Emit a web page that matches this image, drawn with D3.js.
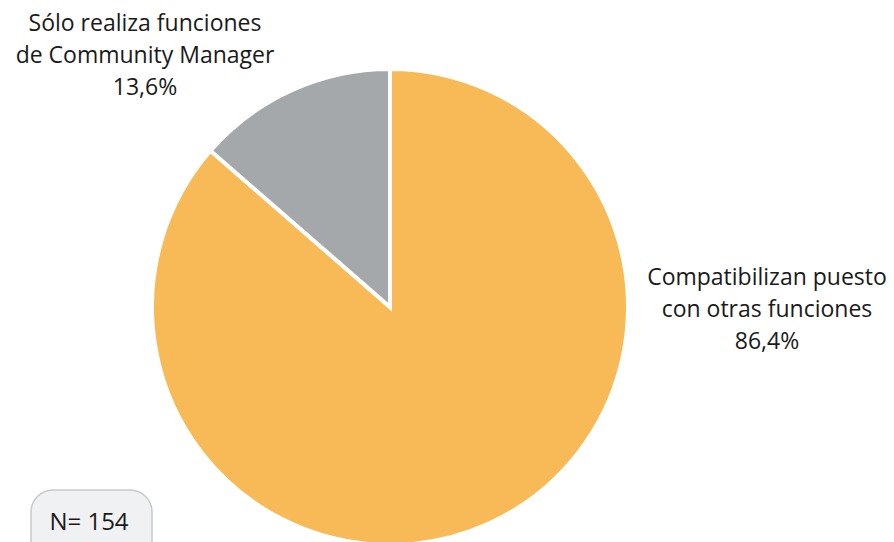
<!DOCTYPE html>
<html>
<head>
<meta charset="utf-8">
<script src="https://cdn.jsdelivr.net/npm/d3@7"></script>
<style>
  body { margin: 0; background: #fff; }
  svg { display: block; }
  text { font-family: "Open Sans", "Noto Sans", sans-serif; fill: #1a1a1a; }
</style>
</head>
<body>
<script>
const categories = ["Compatibilizan puesto con otras funciones", "Sólo realiza funciones de Community Manager"];
const values = [86.4, 13.6];
const colors = ["#F7BA56", "#A4A8AB"];
const labelLines = [
  ["Compatibilizan puesto", "con otras funciones", "86,4%"],
  ["Sólo realiza funciones", "de Community Manager", "13,6%"]
];
const sampleNote = "N= 154";

const w = 894, h = 542;
const cx = 390, cy = 307, r = 238;

const svg = d3.select("body").append("svg")
  .attr("width", w)
  .attr("height", h);

const data = categories.map((c, i) => ({ name: c, value: values[i], color: colors[i], lines: labelLines[i] }));

const pie = d3.pie().sort(null).value(d => d.value);
const arc = d3.arc().innerRadius(0).outerRadius(r);

const g = svg.append("g").attr("transform", `translate(${cx},${cy})`);

g.selectAll("path")
  .data(pie(data))
  .enter()
  .append("path")
  .attr("d", arc)
  .attr("fill", d => d.data.color)
  .attr("stroke", "#fff")
  .attr("stroke-width", 4)
  .attr("stroke-linejoin", "miter");

// label positions, placed outside the pie
const labelPos = [
  { x: 767, y: 285 },
  { x: 145, y: 31 }
];

data.forEach((d, i) => {
  const t = svg.append("text")
    .attr("x", labelPos[i].x)
    .attr("y", labelPos[i].y)
    .attr("text-anchor", "middle")
    .style("font-size", "23px");
  d.lines.forEach((line, j) => {
    t.append("tspan")
      .attr("x", labelPos[i].x)
      .attr("dy", j === 0 ? 0 : 32)
      .text(line);
  });
});

// N box
svg.append("rect")
  .attr("x", 31)
  .attr("y", 490)
  .attr("width", 121)
  .attr("height", 80)
  .attr("rx", 22)
  .attr("fill", "#F0F1F3")
  .attr("stroke", "#C8C9CB")
  .attr("stroke-width", 1.5);

svg.append("text")
  .attr("x", 89)
  .attr("y", 530)
  .attr("text-anchor", "middle")
  .style("font-size", "24px")
  .text(sampleNote);
</script>
</body>
</html>
